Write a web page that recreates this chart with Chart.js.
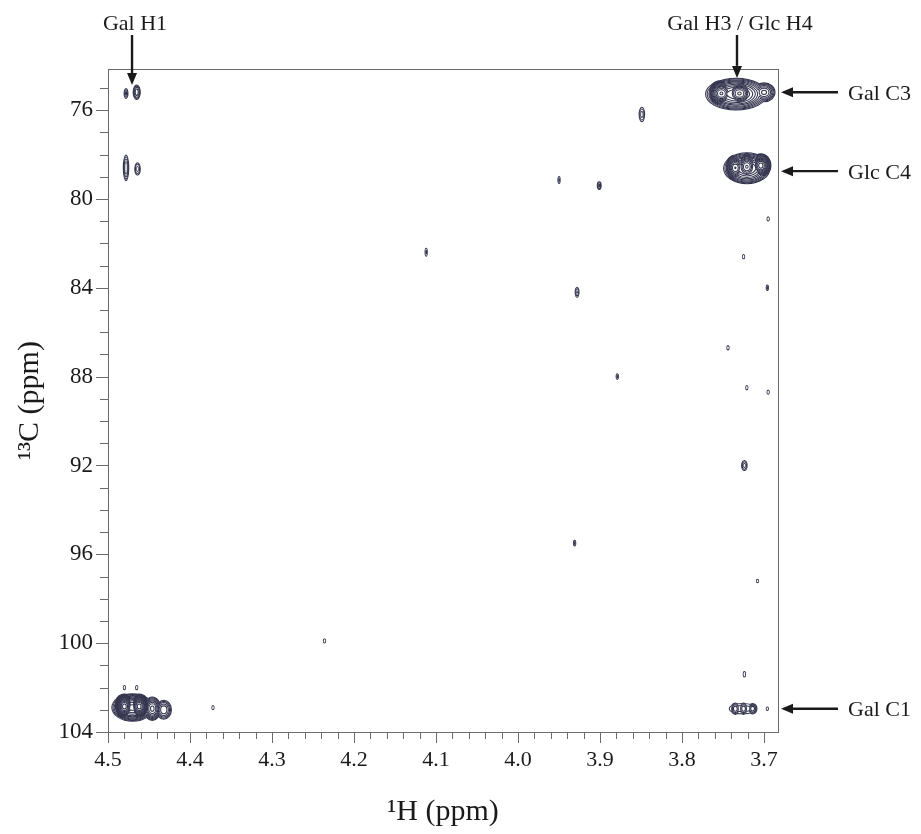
<!DOCTYPE html>
<html lang="en">
<head>
<meta charset="UTF-8">
<title>HMBC 1H-13C spectrum</title>
<script src="https://cdn.jsdelivr.net/npm/chart.js"></script>
<style>
  html, body { margin: 0; padding: 0; background: #fff; }
</style>
</head>
<body>
<canvas id="myChart" width="921" height="834"></canvas>
<script>
// cross peaks: 1H shift, 13C shift, half widths (ppm), relative intensity
// (the large multiplets are entered as a broad envelope plus their resolved components)
const peakH   = [4.470, 4.480, 4.462, 4.446, 4.432, 4.480, 4.465,
                 4.478, 4.465, 4.478, 4.464,
                 3.734, 3.752, 3.730, 3.700,
                 3.721, 3.735, 3.721, 3.704,
                 3.726, 3.735, 3.725, 3.714, 3.696,
                 4.372, 3.849, 3.950, 3.901, 4.112, 3.928, 3.879, 3.931, 4.236,
                 3.695, 3.725, 3.696, 3.744, 3.721, 3.695, 3.724, 3.708, 3.724];
const peakC   = [102.9, 102.85, 102.85, 102.95, 103.0, 102.0, 102.0,
                 75.25, 75.2, 78.6, 78.65,
                 75.28, 75.25, 75.25, 75.2,
                 78.62, 78.6, 78.55, 78.5,
                 102.95, 102.95, 102.95, 102.95, 102.95,
                 102.9, 76.2, 79.15, 79.4, 82.4, 84.2, 88.0, 95.5, 99.9,
                 80.9, 82.6, 84.0, 86.7, 88.5, 88.7, 92.0, 97.2, 101.4];
const peakWH  = [0.026, 0.013, 0.013, 0.011, 0.010, 0.002, 0.002,
                 0.003, 0.005, 0.004, 0.004,
                 0.038, 0.017, 0.019, 0.014,
                 0.029, 0.013, 0.015, 0.013,
                 0.017, 0.006, 0.006, 0.006, 0.002,
                 0.002, 0.004, 0.002, 0.003, 0.002, 0.003, 0.002, 0.002, 0.002,
                 0.002, 0.002, 0.002, 0.002, 0.002, 0.002, 0.004, 0.002, 0.002];
const peakWC  = [0.64, 0.58, 0.58, 0.55, 0.45, 0.12, 0.12,
                 0.25, 0.35, 0.6, 0.3,
                 0.74, 0.6, 0.62, 0.45,
                 0.72, 0.6, 0.64, 0.56,
                 0.26, 0.28, 0.28, 0.26, 0.1,
                 0.12, 0.35, 0.18, 0.2, 0.2, 0.25, 0.15, 0.15, 0.12,
                 0.12, 0.12, 0.15, 0.12, 0.12, 0.12, 0.25, 0.1, 0.15];
const peakAmp = [14, 60, 60, 8, 4, 1.3, 1.3,
                 2, 3, 3, 2,
                 16, 30, 40, 6,
                 14, 22, 30, 26,
                 1.6, 3, 3, 3, 1.3,
                 1.3, 2, 1.5, 2, 1.5, 1.8, 1.5, 1.5, 1.3,
                 1.3, 1.3, 1.5, 1.3, 1.3, 1.3, 2, 1.2, 1.3];

// axis ranges and tick labels
const xRange = [3.683, 4.5];
const yRange = [74.15, 104];
const xMajorTicks = [4.5, 4.4, 4.3, 4.2, 4.1, 4.0, 3.9, 3.8, 3.7];
const yMajorTicks = [76, 80, 84, 88, 92, 96, 100, 104];

// assignments
const topLabels = ['Gal H1', 'Gal H3 / Glc H4'];
const topLabelH = [4.4707, 3.733];
const topArrowC = [74.87, 74.55];
const sideLabels = ['Gal C3', 'Glc C4', 'Gal C1'];
const sideLabelC = [75.2, 78.75, 102.95];

const FONT = "'Liberation Serif', 'DejaVu Serif', serif";
const INK = '#1a1a1a';
const AXIS = '#6a6a6a';
const CONTOUR = '#33334e';

// minor ticks every 0.02 ppm (1H) and 1 ppm (13C)
const xTicks = [];
for (let i = 0; i <= 40; i++) xTicks.push(+(4.5 - i * 0.02).toFixed(2));
const yTicks = [];
for (let v = 75; v <= 104; v++) yTicks.push(v);

const isMajorX = v => xMajorTicks.some(m => Math.abs(m - v) < 1e-6);
const isMajorY = v => yMajorTicks.includes(v);

const contourPlugin = {
  id: 'contours',
  afterDatasetsDraw(chart) {
    const { ctx, chartArea: a, scales: { x, y } } = chart;
    const maxAmp = Math.max(...peakAmp);
    const levels = [];
    for (let t = 1; t < maxAmp; t *= 1.32) levels.push(t);
    const lw = 1.05;

    ctx.save();
    ctx.beginPath();
    ctx.rect(a.left, a.top, a.right - a.left, a.bottom - a.top);
    ctx.clip();

    const ellipses = (t, shrink) => {
      ctx.beginPath();
      let any = false;
      peakH.forEach((h, i) => {
        const amp = peakAmp[i];
        if (amp <= t) return;
        const f = Math.sqrt(Math.log(amp / t) / Math.log(amp));
        const cx = x.getPixelForValue(h);
        const cy = y.getPixelForValue(peakC[i]);
        const rx = Math.abs(x.getPixelForValue(h + peakWH[i]) - cx) * f - shrink;
        const ry = Math.abs(y.getPixelForValue(peakC[i] + peakWC[i]) - cy) * f - shrink;
        if (rx < 0.3 || ry < 0.3) return;
        ctx.moveTo(cx + rx, cy);
        ctx.ellipse(cx, cy, Math.max(rx, 0.8), Math.max(ry, 0.8), 0, 0, Math.PI * 2);
        any = true;
      });
      return any;
    };

    levels.forEach(t => {
      if (ellipses(t, 0)) { ctx.fillStyle = CONTOUR; ctx.fill(); }
      if (ellipses(t, lw)) { ctx.fillStyle = '#ffffff'; ctx.fill(); }
    });
    ctx.restore();
  }
};

function arrow(ctx, x1, y1, x2, y2) {
  const ang = Math.atan2(y2 - y1, x2 - x1);
  const head = 12, half = 5;
  const c = Math.cos(ang), s = Math.sin(ang);
  ctx.beginPath();
  ctx.moveTo(x1, y1);
  ctx.lineTo(x2 - head * c, y2 - head * s);
  ctx.stroke();
  ctx.beginPath();
  ctx.moveTo(x2, y2);
  ctx.lineTo(x2 - head * c - half * s, y2 - head * s + half * c);
  ctx.lineTo(x2 - head * c + half * s, y2 - head * s - half * c);
  ctx.closePath();
  ctx.fill();
}

const framePlugin = {
  id: 'frame',
  afterDraw(chart) {
    const { ctx, chartArea: a, scales: { x, y } } = chart;
    ctx.save();
    ctx.strokeStyle = AXIS;
    ctx.lineWidth = 1;
    ctx.strokeRect(a.left + 0.5, a.top + 0.5, a.right - a.left, a.bottom - a.top);

    // outward tick marks, long on labelled values
    ctx.beginPath();
    xTicks.forEach(v => {
      const px = Math.round(x.getPixelForValue(v)) + 0.5;
      ctx.moveTo(px, a.bottom);
      ctx.lineTo(px, a.bottom + (isMajorX(v) ? 11 : 7));
    });
    yTicks.forEach(v => {
      const py = Math.round(y.getPixelForValue(v)) + 0.5;
      ctx.moveTo(a.left, py);
      ctx.lineTo(a.left - (isMajorY(v) ? 12 : 8), py);
    });
    ctx.stroke();

    // assignment labels with arrows
    ctx.fillStyle = INK;
    ctx.strokeStyle = INK;
    ctx.lineWidth = 2.4;
    ctx.font = '22px ' + FONT;
    ctx.textBaseline = 'middle';
    ctx.textAlign = 'center';
    topLabels.forEach((t, i) => {
      const px = x.getPixelForValue(topLabelH[i]);
      ctx.fillText(t, px + 3, 24);
      arrow(ctx, px, 35, px, y.getPixelForValue(topArrowC[i]));
    });
    ctx.textAlign = 'left';
    sideLabels.forEach((t, i) => {
      const py = y.getPixelForValue(sideLabelC[i]);
      arrow(ctx, a.right + 60, py, a.right + 3, py);
      ctx.fillText(t, a.right + 70, py + 2);
    });
    ctx.restore();
  }
};

const ctx = document.getElementById('myChart').getContext('2d');
const chart = new Chart(ctx, {
  type: 'scatter',
  data: {
    datasets: [{
      label: 'cross peaks',
      data: peakH.map((h, i) => ({ x: h, y: peakC[i] })),
      pointRadius: 0,
      pointHoverRadius: 0
    }]
  },
  options: {
    responsive: false,
    animation: false,
    devicePixelRatio: 1,
    layout: { padding: { top: 69, right: 143, left: 0, bottom: 0 } },
    plugins: { legend: { display: false }, tooltip: { enabled: false } },
    scales: {
      x: {
        type: 'linear',
        reverse: true,
        min: xRange[0],
        max: xRange[1],
        afterBuildTicks: scale => { scale.ticks = xTicks.map(v => ({ value: v })); },
        afterFit: scale => { scale.height = 102; },
        grid: { drawOnChartArea: false, drawTicks: false },
        border: { color: AXIS, width: 1 },
        ticks: {
          autoSkip: false,
          maxRotation: 0,
          padding: 15,
          color: INK,
          font: { family: FONT, size: 22 },
          callback: v => isMajorX(v) ? v.toFixed(1) : ''
        },
        title: {
          display: true,
          text: '\u00b9H (ppm)',
          color: INK,
          font: { family: FONT, size: 30 },
          padding: { top: 0, bottom: 4 }
        }
      },
      y: {
        type: 'linear',
        reverse: true,
        min: yRange[0],
        max: yRange[1],
        afterBuildTicks: scale => { scale.ticks = yTicks.map(v => ({ value: v })); },
        afterFit: scale => { scale.width = 108; },
        grid: { drawOnChartArea: false, drawTicks: false },
        border: { color: AXIS, width: 1 },
        ticks: {
          autoSkip: false,
          padding: 15,
          color: INK,
          font: { family: FONT, size: 23 },
          callback: v => isMajorY(v) ? String(v) : ''
        },
        title: {
          display: true,
          text: '\u00b9\u00b3C (ppm)',
          color: INK,
          font: { family: FONT, size: 30 },
          padding: { top: 12, bottom: 0 }
        }
      }
    }
  },
  plugins: [contourPlugin, framePlugin]
});
</script>
</body>
</html>
